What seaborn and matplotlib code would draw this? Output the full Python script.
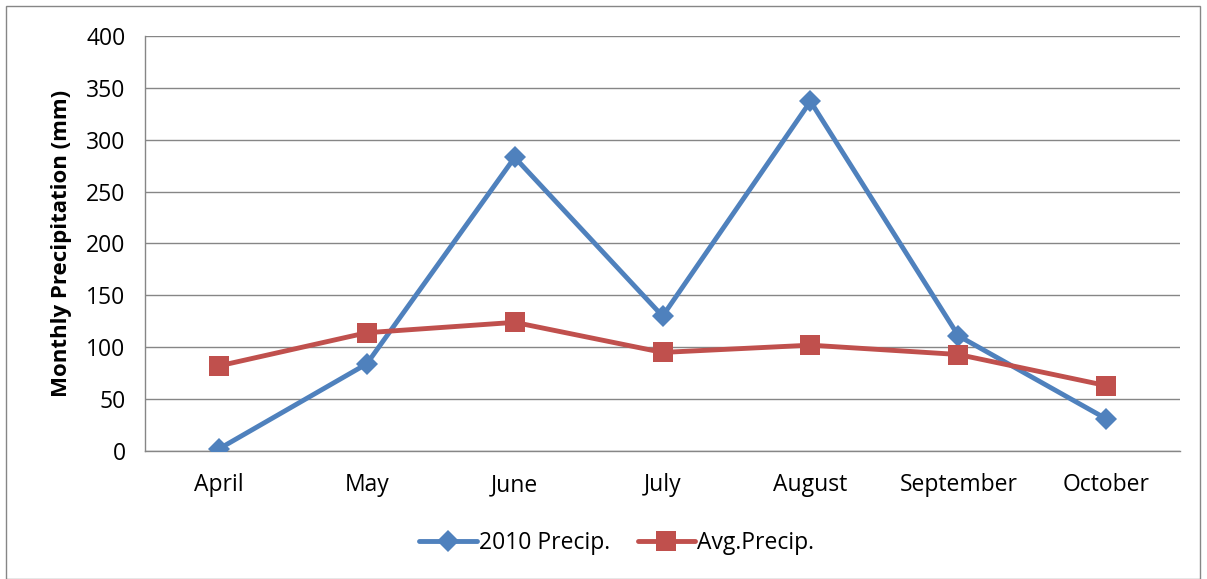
import numpy as np
import pandas as pd
import seaborn as sns
import matplotlib.pyplot as plt
from matplotlib.patches import Rectangle

# Dados
months = ['April', 'May', 'June', 'July', 'August', 'September', 'October']
precip_2010 = [2, 84, 283, 130, 337, 111, 31]
precip_avg = [82, 114, 124, 95, 102, 93, 63]
series_names = ['2010 Precip.', 'Avg.Precip.']

df = pd.DataFrame({
    'month': months * 2,
    'pos': list(range(len(months))) * 2,
    'value': precip_2010 + precip_avg,
    'series': [series_names[0]] * len(months) + [series_names[1]] * len(months),
})

sns.set_theme(style='white', rc={'text.color': 'black', 'xtick.color': 'black',
                                 'ytick.color': 'black', 'axes.labelcolor': 'black'})
plt.rcParams['font.family'] = ['Open Sans', 'DejaVu Sans']

fig = plt.figure(figsize=(12.07, 5.79), dpi=100)
ax = fig.add_axes([0.1201, 0.2211, 0.8577, 0.7167])

palette = {series_names[0]: '#4F81BD', series_names[1]: '#C0504D'}
markers = {series_names[0]: 'D', series_names[1]: 's'}
sizes = {series_names[0]: 11, series_names[1]: 14}

for name in series_names:
    sub = df[df['series'] == name]
    sns.lineplot(data=sub, x='pos', y='value', ax=ax, color=palette[name],
                 marker=markers[name], markersize=sizes[name], markeredgewidth=0,
                 linewidth=3.5, label=name, sort=False, zorder=3)

# Eixos
ax.set_xlim(-0.5, len(months) - 0.5)
ax.set_ylim(0, 400)
ax.set_yticks(np.arange(0, 401, 50))
ax.set_xticks(range(len(months)))
ax.set_xticklabels(months)
ax.set_xticks(np.arange(-0.5, len(months), 1), minor=True)
ax.tick_params(axis='x', which='major', length=0, pad=16, labelsize=16.5, labelcolor='black')
ax.tick_params(axis='x', which='minor', length=7, color='#868686', width=1, direction='out')
ax.tick_params(axis='y', which='major', length=7, color='#868686', width=1, direction='out',
               labelsize=16.5, pad=7, labelcolor='black')
ax.yaxis.grid(True, color='#868686', linewidth=1)
ax.xaxis.grid(False)
ax.set_xlabel('')
ax.set_ylabel('Monthly Precipitation (mm)', fontsize=16, fontweight='bold', labelpad=10,
              color='black')

for side in ['top', 'right']:
    ax.spines[side].set_visible(False)
for side in ['left', 'bottom']:
    ax.spines[side].set_color('#868686')
    ax.spines[side].set_linewidth(1)

leg = ax.legend(loc='center', bbox_to_anchor=(0.511, 0.062), bbox_transform=fig.transFigure,
                ncol=2, frameon=False, fontsize=16.5, handlelength=2.5, handletextpad=0.1,
                columnspacing=1.2, labelcolor='black')

# Borda externa do gráfico
fig.patches.append(Rectangle((0.005, 0.0), 0.989, 0.99, transform=fig.transFigure,
                             fill=False, edgecolor='#868686', linewidth=1))

fig.savefig('out.png', dpi=100)
